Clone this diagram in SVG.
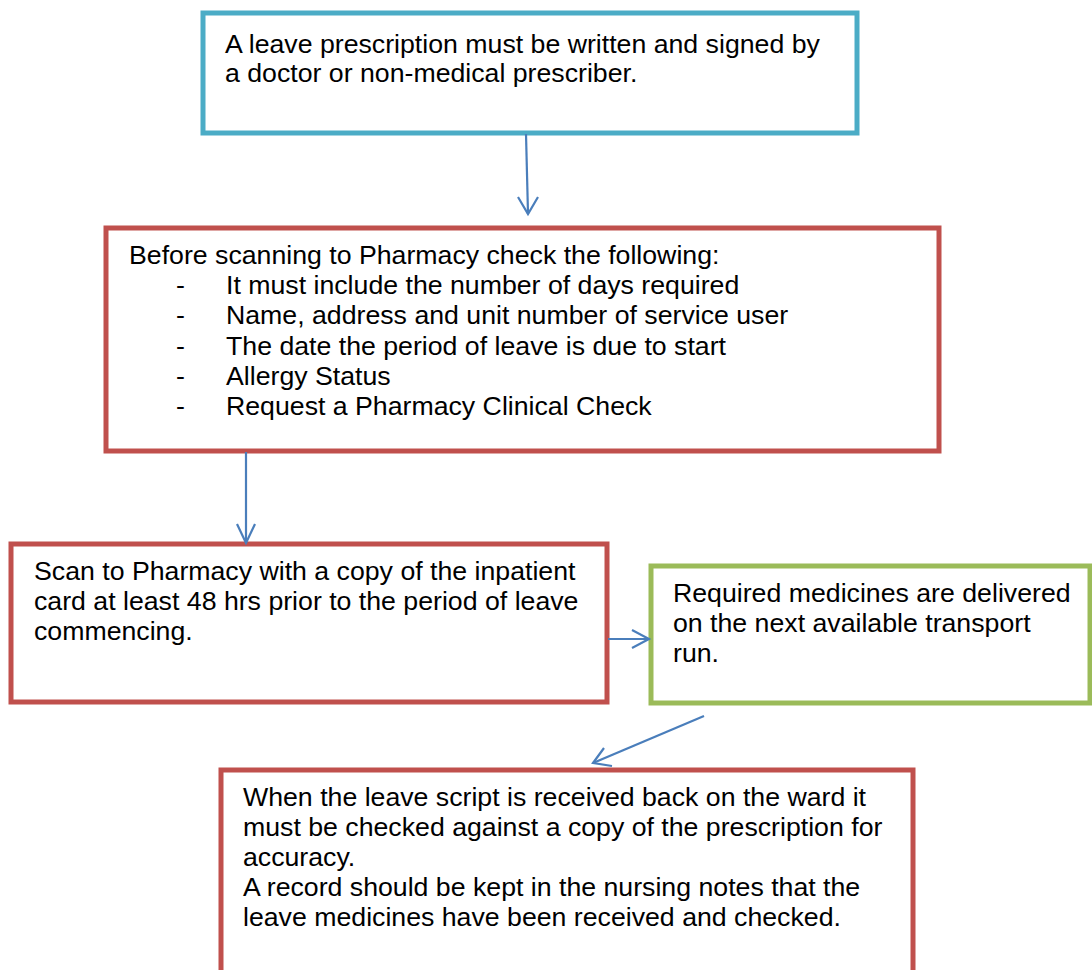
<svg xmlns="http://www.w3.org/2000/svg" width="1092" height="970" viewBox="0 0 1092 970">
<style>
.box{fill:#fff;stroke-width:5}
.blue{stroke:#4BACC6}
.red{stroke:#C0504D}
.green{stroke:#9BBB59}
text{font-family:"Liberation Sans",Arial,sans-serif;font-size:26.7px;fill:#000}
.conn{stroke:#4A7EBB;stroke-width:2.2;fill:none}
</style>
<rect width="1092" height="970" fill="#fff"/>
<g id="node-prescription">
<rect class="box blue" x="203" y="13" width="654" height="120"/>
<text x="225" y="53">A leave prescription must be written and signed by</text>
<text x="225" y="82">a doctor or non-medical prescriber.</text>
</g>
<g id="node-check">
<rect class="box red" x="106" y="228" width="833" height="223"/>
<text x="129" y="264">Before scanning to Pharmacy check the following:</text>
<text x="176" y="294">-</text><text x="226" y="294">It must include the number of days required</text>
<text x="176" y="324">-</text><text x="226" y="324">Name, address and unit number of service user</text>
<text x="176" y="355">-</text><text x="226" y="355">The date the period of leave is due to start</text>
<text x="176" y="385">-</text><text x="226" y="385">Allergy Status</text>
<text x="176" y="415">-</text><text x="226" y="415">Request a Pharmacy Clinical Check</text>
</g>
<g id="node-scan">
<rect class="box red" x="11" y="544" width="596" height="158"/>
<text x="34" y="580">Scan to Pharmacy with a copy of the inpatient</text>
<text x="34" y="610">card at least 48 hrs prior to the period of leave</text>
<text x="34" y="640">commencing.</text>
</g>
<g id="node-delivered">
<rect class="box green" x="651" y="566" width="439" height="137"/>
<text x="673" y="602">Required medicines are delivered</text>
<text x="673" y="632">on the next available transport</text>
<text x="673" y="662">run.</text>
</g>
<g id="node-received">
<rect class="box red" x="221" y="770" width="692" height="210"/>
<text x="243" y="806">When the leave script is received back on the ward it</text>
<text x="243" y="836">must be checked against a copy of the prescription for</text>
<text x="243" y="866">accuracy.</text>
<text x="243" y="896">A record should be kept in the nursing notes that the</text>
<text x="243" y="926">leave medicines have been received and checked.</text>
</g>
<g id="connectors">
<path class="conn" d="M526 134 L528 214"/>
<path class="conn" d="M518 197 L528 214 L538 197"/>
<path class="conn" d="M246 452 L246 543"/>
<path class="conn" d="M237 524 L246 543 L255 524"/>
<path class="conn" d="M608 639 L649 639"/>
<path class="conn" d="M632 630 L649 639 L632 648"/>
<path class="conn" d="M704 716 L593 763"/>
<path class="conn" d="M604 748 L593 763 L612 766"/>
</g>
</svg>
